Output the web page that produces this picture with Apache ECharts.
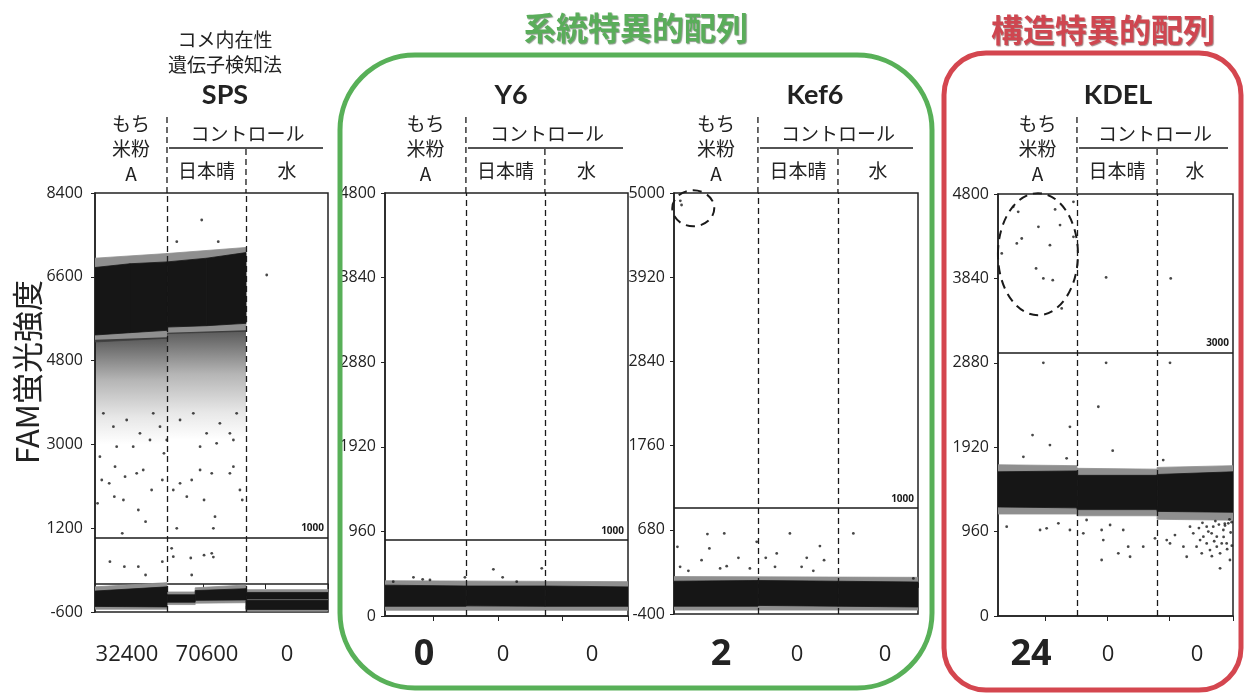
<!DOCTYPE html>
<html>
<head>
<meta charset="utf-8">
<script src="https://cdn.jsdelivr.net/npm/echarts@6/dist/echarts.min.js"></script>
<style>
  html, body { margin: 0; padding: 0; background: #fff; }
  #main { width: 1248px; height: 695px; }
</style>
</head>
<body>
<div id="main"></div>
<script>
// ---- data ----
const panelNames = ['SPS', 'Y6', 'Kef6', 'KDEL'];
const wellNames = ['もち米粉A', '日本晴', '水'];

// y tick labels per panel
const yTicks = [
  [-600, 1200, 3000, 4800, 6600, 8400],
  [0, 960, 1920, 2880, 3840, 4800],
  [-400, 680, 1760, 2840, 3920, 5000],
  [0, 960, 1920, 2880, 3840, 4800]
];
// x axis: event position 0..100, tick marks only
const xTicks = [20, 46.5, 73, 100];

// well boundaries (A | 日本晴 | 水)
const dividers = [[30.9, 64.8], [33.3, 65.8], [34.4, 67.2], [33.6, 67.7]];

// threshold line (drawn value) and its printed label
const thresholds = [1000, 860, 960, 3000];
const thresholdLabels = ['1000', '1000', '1000', '3000'];

// positive droplet counts under each well
const dropletCounts = [
  ['32400', '70600', '0'],
  ['0', '0', '0'],
  ['2', '0', '0'],
  ['24', '0', '0']
];

// dense droplet clouds: [x0, x1, top@x0, top@x1, bottom@x0, bottom@x1]
const spsCore = [
  [0, 15, 6800, 6880, 5350, 5400],
  [15, 30.9, 6880, 6920, 5400, 5450],
  [30.9, 48, 6920, 7000, 5520, 5550],
  [48, 64.8, 7000, 7120, 5550, 5600],
  [0, 30.9, -150, -60, -480, -490],
  [30.9, 43, -230, -230, -390, -390],
  [43, 64.8, -140, -100, -350, -340],
  [64.8, 100, -180, -180, -320, -320],
  [64.8, 100, -350, -350, -545, -545]
];
const spsHalo = [
  [0, 30.9, 7000, 7100, 5200, 5280],
  [30.9, 64.8, 7100, 7230, 5380, 5430],
  [0, 30.9, -60, 30, -540, -540],
  [30.9, 43, -170, -170, -440, -440],
  [43, 64.8, -80, -20, -410, -400],
  [64.8, 100, -120, -120, -580, -580]
];
const spsFade = [
  [0, 30.9, 5250, 5300, 3000, 3000],
  [30.9, 64.8, 5400, 5450, 3100, 3100]
];
const y6Core = [
  [0, 33.3, 350, 340, 110, 110],
  [33.3, 65.8, 340, 340, 115, 110],
  [65.8, 100, 340, 330, 110, 110]
];
const y6Halo = [[0, 100, 400, 390, 65, 65]];
const kefCore = [
  [0, 34.4, 20, 30, -300, -300],
  [34.4, 67.2, 30, 20, -290, -300],
  [67.2, 100, 20, 10, -300, -310]
];
const kefHalo = [[0, 100, 80, 70, -350, -350]];
const kdelCore = [
  [0, 33.6, 1640, 1650, 1240, 1230],
  [33.6, 67.7, 1600, 1600, 1210, 1210],
  [67.7, 100, 1610, 1640, 1190, 1180]
];
const kdelHalo = [
  [0, 33.6, 1720, 1710, 1160, 1160],
  [33.6, 67.7, 1680, 1670, 1140, 1140],
  [67.7, 100, 1690, 1710, 1100, 1090]
];

// single droplets [x, FAM]
const spsPoints = [
  [45.8, 7820], [35.1, 7354], [52.9, 7354], [73.7, 6639],
  [3.6, 3667], [7.9, 3380], [13.6, 3524], [19.3, 3237], [25.0, 3667], [27.9, 3380],
  [36.5, 3524], [42.2, 3667], [47.9, 3237], [53.6, 3452], [59.4, 3094], [60.8, 3667],
  [57.9, 3237], [9.3, 2951], [16.4, 2951], [23.6, 3094], [45.1, 2951], [52.2, 3023],
  [2.1, 2736], [2.9, 2235], [1.1, 1734], [8.6, 2522], [12.2, 1806], [12.9, 2307],
  [18.6, 1591], [21.7, 1340], [11.7, 1090], [17.9, 2378], [20.7, 2450], [24.3, 2020],
  [28.9, 2235], [29.6, 2808], [30.8, 3094], [33.6, 2020], [35.1, 1197], [39.4, 1878],
  [41.5, 2235], [46.8, 1806], [50.8, 1197], [51.5, 1448], [57.9, 2378], [59.4, 2522],
  [62.2, 2020], [63.2, 1806], [45.1, 2450], [50.1, 2378], [36.5, 2164], [6.1, 2164],
  [8.3, 1878],
  [6.4, 481], [12.6, 373], [18.6, 373], [21.7, 195], [28.9, 481], [32.9, 767],
  [33.6, 588], [41.1, 560], [41.5, 195], [46.8, 620], [50.1, 660], [50.8, 580]
];
const y6Points = [
  [11.7, 439], [15.5, 416], [18.5, 409], [32.9, 439], [44.6, 530],
  [48.4, 439], [64.5, 541], [54.2, 390], [3.4, 390]
];
const kefPoints = [
  [3.1, 4846], [2.6, 4900],
  [13.7, 625], [14.5, 441], [20.6, 633], [11.3, 291], [26.4, 321], [18.9, 184],
  [21.6, 214], [5.9, 154], [2.5, 205], [33.9, 526], [37.6, 321], [42.1, 377],
  [41.4, 205], [47.5, 633], [54.4, 321], [59.8, 471], [61.5, 291], [52.3, 205],
  [57.1, 154], [31.1, 184], [73.5, 633], [98.1, 56], [1.4, 462]
];
const kdelPoints = [
  [6.5, 4654], [8.6, 4597], [1.6, 4124], [8.0, 4238], [10.1, 4294], [17.2, 4427],
  [24.3, 4624], [26.4, 4446], [22.1, 4218], [16.2, 3953], [19.3, 3840], [23.3, 3820],
  [32.1, 4313], [32.1, 4711], [27.1, 3498], [46.0, 3851], [73.5, 3840],
  [14.7, 2058], [22.1, 1944], [10.8, 1811], [30.6, 2152], [29.2, 1793], [42.7, 2380],
  [48.8, 1880], [19.3, 2880], [46.0, 2880], [73.2, 2880], [70.3, 1774],
  [3.7, 1016], [17.9, 978], [20.7, 997], [25.7, 1054], [30.6, 978], [36.3, 940],
  [37.7, 1092], [44.1, 978], [44.8, 864], [44.1, 637], [47.7, 1035], [51.2, 713],
  [53.3, 978], [55.4, 788], [56.2, 674], [61.8, 788], [66.8, 883], [71.8, 864],
  [73.2, 826], [75.3, 921], [80.3, 674], [83.1, 940], [84.5, 788], [86.0, 864],
  [87.4, 902], [88.8, 826], [90.2, 750], [91.6, 1016], [93.1, 902], [94.5, 713],
  [95.9, 978], [97.3, 826], [98.7, 637], [98.0, 1054], [94.5, 542], [99.4, 1067],
  [96.6, 1029], [81.7, 1016], [78.9, 788], [88.8, 1016], [90.9, 940], [93.1, 788],
  [86.7, 713], [95.2, 826], [85.5, 1000], [89.5, 960], [92.0, 850], [96.0, 900],
  [99.0, 950], [97.5, 760], [91.0, 680], [99.5, 800], [94.0, 1040], [87.0, 1060],
  [92.5, 1080], [96.5, 1050], [98.5, 1100]
];

// dashed annotation rings (centre in data units)
const ringCentres = [null, null, [7.9, 4804], [17.0, 4116]];

const coreBands = [spsCore, y6Core, kefCore, kdelCore];
const haloBands = [spsHalo, y6Halo, kefHalo, kdelHalo];
const fadeBands = [spsFade, [], [], []];
const points = [spsPoints, y6Points, kefPoints, kdelPoints];

// ---- layout ----
const gridBoxes = [
  { left: 95, top: 193, width: 233, height: 419 },
  { left: 385, top: 193, width: 243, height: 423 },
  { left: 674, top: 193, width: 244, height: 421 },
  { left: 998, top: 194, width: 235, height: 422 }
];
const titleX = [225, 511, 815, 1118];
const countX = [[127, 207, 287], [424, 503, 592], [721, 797, 885], [1031, 1108, 1197]];
const ringSize = [null, null, [21, 18], [40, 61]];

const INK = '#1a1a1a';
const JP = '"Noto Sans CJK JP", sans-serif';
const NUM = '"Open Sans", "Noto Sans", sans-serif';

function bandItem(fill, stroke) {
  return function (params, api) {
    const pts = [
      api.coord([api.value(0), api.value(2)]),
      api.coord([api.value(1), api.value(3)]),
      api.coord([api.value(1), api.value(5)]),
      api.coord([api.value(0), api.value(4)])
    ];
    return {
      type: 'polygon', shape: { points: pts },
      style: { fill: fill, stroke: stroke || null, lineWidth: stroke ? 0.8 : 0 }
    };
  };
}

const fadeFill = new echarts.graphic.LinearGradient(0, 0, 0, 1, [
  { offset: 0, color: 'rgba(25,25,25,0.72)' },
  { offset: 0.4, color: 'rgba(25,25,25,0.32)' },
  { offset: 0.75, color: 'rgba(25,25,25,0.1)' },
  { offset: 1, color: 'rgba(25,25,25,0.0)' }
]);

const chart = echarts.init(document.getElementById('main'));

const grids = [], xAxes = [], yAxes = [], series = [];

panelNames.forEach((name, i) => {
  grids.push(Object.assign({ show: true, borderColor: '#222', borderWidth: 1.5 }, gridBoxes[i]));

  xAxes.push({
    gridIndex: i, type: 'value', min: 0, max: 100,
    axisLine: { lineStyle: { color: '#222', width: 1.5 } },
    axisTick: { show: true, customValues: xTicks, length: 5, lineStyle: { color: '#222' } },
    axisLabel: { show: false },
    splitLine: { show: false }
  });

  yAxes.push({
    gridIndex: i, type: 'value',
    min: yTicks[i][0], max: yTicks[i][yTicks[i].length - 1],
    axisLine: { show: true, lineStyle: { color: '#222', width: 1.5 } },
    axisTick: { show: true, customValues: yTicks[i], length: 4, lineStyle: { color: '#222' } },
    axisLabel: {
      customValues: yTicks[i], fontSize: 16, color: '#222',
      fontFamily: NUM, margin: i === 0 ? 12 : 9,
      formatter: v => String(v)
    },
    splitLine: { show: false }
  });

  const common = { xAxisIndex: i, yAxisIndex: i, silent: true, clip: true,
    encode: { x: [0, 1], y: [2, 3, 4, 5] } };

  series.push(Object.assign({ type: 'custom', name: name + ' halo', z: 1,
    data: haloBands[i], renderItem: bandItem('#8f8f8f', '#8f8f8f') }, common));
  if (fadeBands[i].length) {
    series.push(Object.assign({ type: 'custom', name: name + ' fade', z: 2,
      data: fadeBands[i], renderItem: bandItem(fadeFill) }, common));
  }
  series.push(Object.assign({ type: 'custom', name: name + ' core', z: 3,
    data: coreBands[i], renderItem: bandItem('#161616', '#161616') }, common));

  series.push({
    type: 'scatter', name: name, xAxisIndex: i, yAxisIndex: i, z: 4,
    data: points[i], symbolSize: 2.8, silent: true,
    itemStyle: { color: INK },
    markLine: {
      silent: true, symbol: ['none', 'none'], animation: false,
      data: [
        { xAxis: dividers[i][0], lineStyle: { color: INK, width: 1.3, type: [6, 4] }, label: { show: false } },
        { xAxis: dividers[i][1], lineStyle: { color: INK, width: 1.3, type: [6, 4] }, label: { show: false } },
        {
          yAxis: thresholds[i],
          lineStyle: { color: INK, width: 1.6, type: 'solid' },
          label: {
            show: true, position: 'insideEndTop', formatter: thresholdLabels[i],
            fontSize: 10, fontWeight: 'bold', color: INK, fontFamily: NUM, distance: 4
          }
        }
      ]
    }
  });
});

chart.setOption({
  animation: false,
  backgroundColor: '#fff',
  grid: grids,
  xAxis: xAxes,
  yAxis: yAxes,
  series: series
});

// ---- headers, counts and frames (positions from the axes) ----
const g = [];
function txt(text, x, y, size, opts) {
  g.push({
    type: 'text', x: x, y: y, z: 50,
    style: Object.assign({
      text: text, fill: '#222', fontSize: size, fontFamily: JP,
      align: 'center', verticalAlign: 'middle'
    }, opts || {})
  });
}
function seg(x1, y1, x2, y2, dashed, w) {
  g.push({
    type: 'line', z: 50,
    shape: { x1: x1, y1: y1, x2: x2, y2: y2 },
    style: { stroke: INK, lineWidth: w || 1.3, lineDash: dashed ? [6, 4] : null }
  });
}

panelNames.forEach((name, i) => {
  const px = v => chart.convertToPixel({ xAxisIndex: i }, v);
  const left = px(0), right = px(100);
  const d1 = px(dividers[i][0]), d2 = px(dividers[i][1]);
  const top = gridBoxes[i].top;

  txt(name, titleX[i], 95, 27, { fontFamily: '"Lato", "Open Sans", sans-serif', fontWeight: 'bold' });

  const aX = (left + d1) / 2;
  txt('もち', aX, 124, 19);
  txt('米粉', aX, 149, 19);
  txt('A', aX, 174, 19);
  txt('コントロール', (d1 + right) / 2, 134, 19);
  txt('日本晴', (d1 + d2) / 2, 171, 19);
  txt('水', (d2 + right) / 2, 171, 19);

  seg(d1, 117, d1, top, true);
  seg(d2, 149, d2, top, true);
  seg(d1 + 2, 148, right - 5, 148, false, 1.6);

  dropletCounts[i].forEach((c, j) => {
    const big = i > 0 && j === 0;
    txt(c, countX[i][j], 655, big ? 36 : 22, {
      fontFamily: NUM, fontWeight: big ? 'bold' : 'normal', fill: '#222'
    });
  });

  if (ringCentres[i]) {
    const c = chart.convertToPixel({ gridIndex: i }, ringCentres[i]);
    g.push({
      type: 'ellipse', z: 40,
      shape: { cx: c[0], cy: c[1], rx: ringSize[i][0], ry: ringSize[i][1] },
      style: { fill: 'none', stroke: INK, lineWidth: 2, lineDash: [9, 6] }
    });
  }
});

// SPS overline text and axis title
txt('コメ内在性', 225, 40, 19);
txt('遺伝子検知法', 225, 65, 19);
g.push({
  type: 'text', x: 27, y: 372, rotation: Math.PI / 2, z: 50,
  style: { text: 'FAM蛍光強度', fill: '#222', fontSize: 31, fontFamily: JP,
    align: 'center', verticalAlign: 'middle' }
});

// group frames and their titles
g.push({
  type: 'rect', z: 60,
  shape: { x: 340, y: 55, width: 592, height: 633, r: 75 },
  style: { fill: 'none', stroke: '#58b058', lineWidth: 5 }
});
g.push({
  type: 'rect', z: 60,
  shape: { x: 944, y: 53, width: 297, height: 637, r: 42 },
  style: { fill: 'none', stroke: '#d4464f', lineWidth: 5 }
});
txt('系統特異的配列', 636, 28, 32, {
  fill: '#5aad5a', fontWeight: 'bold',
  textShadowColor: 'rgba(40,70,40,0.55)', textShadowOffsetX: 1, textShadowOffsetY: 1, textShadowBlur: 1
});
txt('構造特異的配列', 1103, 30, 32, {
  fill: '#cf4650', fontWeight: 'bold',
  textShadowColor: 'rgba(90,30,30,0.55)', textShadowOffsetX: 1, textShadowOffsetY: 1, textShadowBlur: 1
});

chart.setOption({ graphic: g });
</script>
</body>
</html>
